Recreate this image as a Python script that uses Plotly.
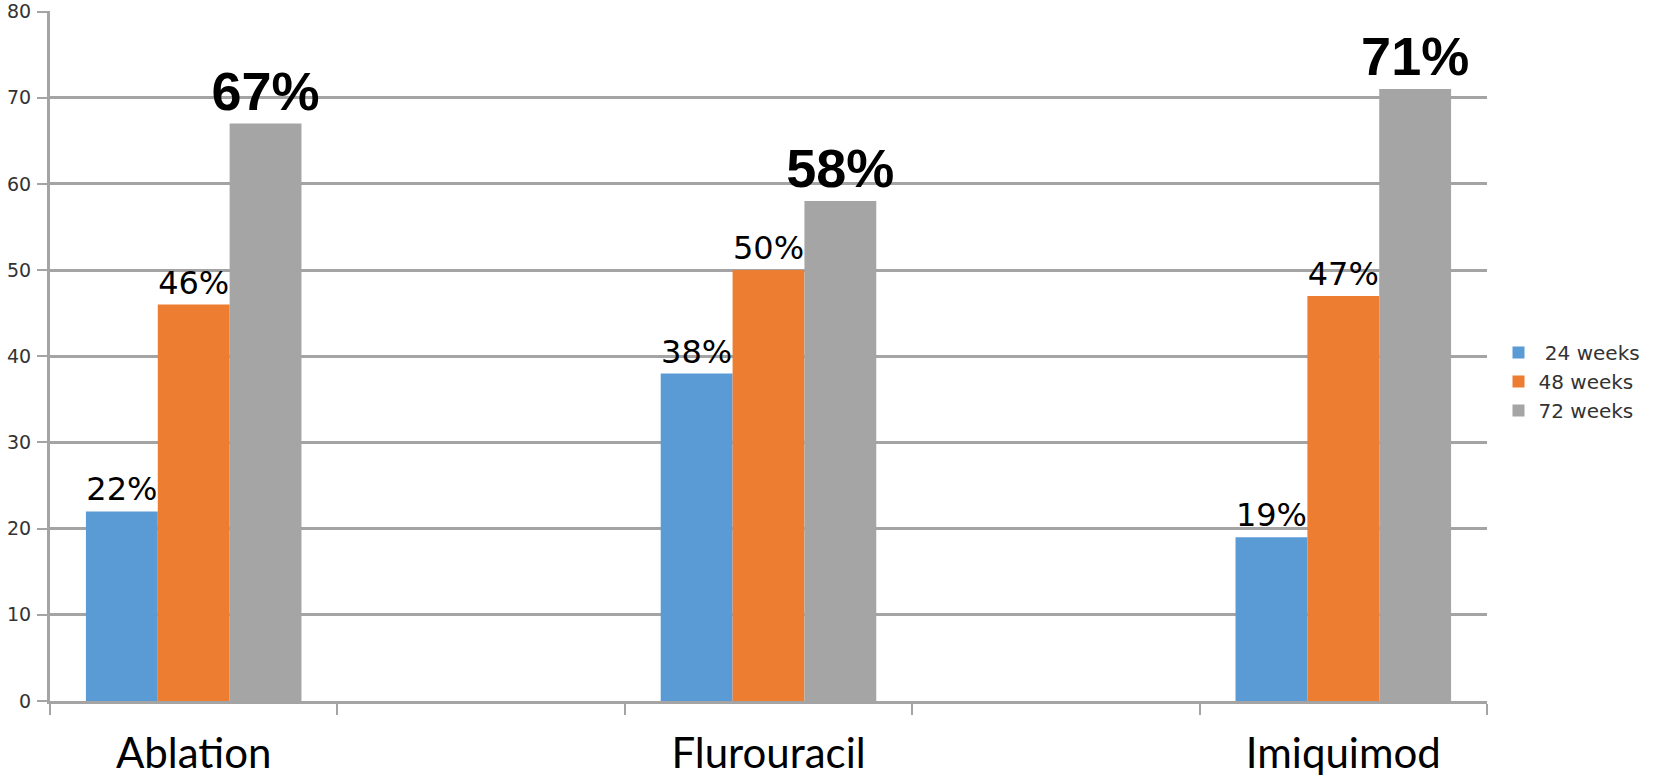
import plotly.graph_objects as go

# Treatment groups, with two empty slots between them on the category axis
categories = ["Ablation", " ", "Flurouracil", "  ", "Imiquimod"]

# Clearance rates (%) per follow-up time point
weeks_24 = [22, None, 38, None, 19]
weeks_48 = [46, None, 50, None, 47]
weeks_72 = [67, None, 58, None, 71]

series_names = [" 24 weeks", "48 weeks", "72 weeks"]
series_values = [weeks_24, weeks_48, weeks_72]
series_colors = ["#5B9BD5", "#ED7D31", "#A5A5A5"]

y_ticks = [0, 10, 20, 30, 40, 50, 60, 70, 80]

GRID = "#a4a4a4"

fig = go.Figure()
for i, (name, vals, color) in enumerate(zip(series_names, series_values, series_colors)):
    big = i == 2
    fig.add_trace(go.Bar(
        x=categories,
        y=vals,
        name=name,
        marker=dict(color=color, line=dict(width=0)),
        texttemplate="%{y}%",
        textposition="outside",
        constraintext="none",
        cliponaxis=False,
        textfont=dict(
            family="Liberation Sans" if big else "DejaVu Sans",
            size=54 if big else 32,
            color="#000000",
            weight="bold" if big else "normal",
        ),
        hoverinfo="skip",
    ))

fig.update_layout(
    width=1657,
    height=778,
    margin=dict(l=50, r=162, t=11, b=77),
    paper_bgcolor="white",
    plot_bgcolor="white",
    barmode="group",
    bargap=0.25,
    bargroupgap=0,
    showlegend=True,
    legend=dict(
        x=1.008,
        xanchor="left",
        y=0.463,
        yanchor="middle",
        font=dict(family="DejaVu Sans", size=20, color="#333333"),
        bgcolor="rgba(0,0,0,0)",
        tracegroupgap=0,
    ),
    font=dict(family="DejaVu Sans"),
)

fig.update_xaxes(
    type="category",
    categoryorder="array",
    categoryarray=categories,
    range=[-0.5, 4.5],
    tickson="boundaries",
    ticks="outside",
    ticklen=11,
    tickwidth=2,
    tickcolor=GRID,
    showline=True,
    linecolor=GRID,
    linewidth=3,
    showgrid=False,
    tickfont=dict(family="Lato", size=42, color="#000000"),
    ticklabelstandoff=14,
    automargin=False,
    fixedrange=True,
)

fig.update_yaxes(
    range=[0, 80.06],
    tickvals=y_ticks,
    ticktext=[str(v) for v in y_ticks],
    ticks="outside",
    ticklen=10,
    tickwidth=2,
    tickcolor=GRID,
    showline=True,
    linecolor=GRID,
    linewidth=3,
    showgrid=True,
    gridcolor=GRID,
    gridwidth=2.5,
    zeroline=False,
    tickfont=dict(family="DejaVu Sans", size=19, color="#333333"),
    ticklabelstandoff=2,
    automargin=False,
    fixedrange=True,
)

fig.write_html("out.html", config={"displayModeBar": False})
